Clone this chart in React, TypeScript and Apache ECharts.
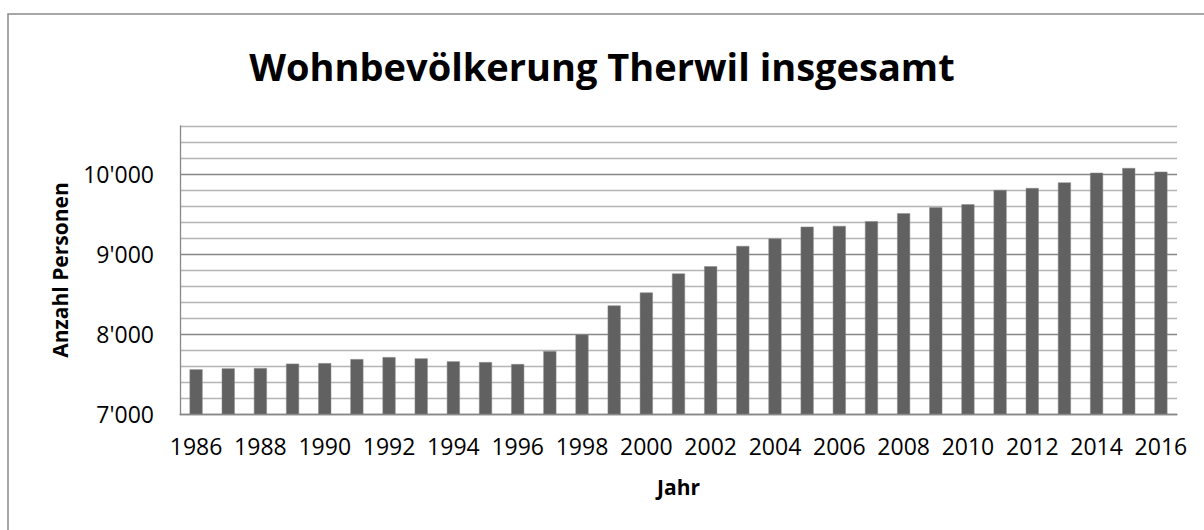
import React, { useEffect, useRef } from "react";
import * as echarts from "echarts";

const TITLE = "Wohnbevölkerung Therwil insgesamt";
const X_NAME = "Jahr";
const Y_NAME = "Anzahl Personen";

const years = [
  "1986", "1987", "1988", "1989", "1990", "1991", "1992", "1993", "1994", "1995",
  "1996", "1997", "1998", "1999", "2000", "2001", "2002", "2003", "2004", "2005",
  "2006", "2007", "2008", "2009", "2010", "2011", "2012", "2013", "2014", "2015", "2016",
];

const population = [
  7558, 7570, 7574, 7629, 7636, 7686, 7711, 7695, 7658, 7649,
  7624, 7786, 7995, 8357, 8519, 8756, 8847, 9101, 9193, 9342,
  9351, 9409, 9508, 9583, 9621, 9800, 9825, 9895, 10016, 10075, 10029,
];

const Y_MIN = 7000;
const Y_MAX = 10600;
const Y_STEP = 200;
const Y_LABEL_STEP = 1000;

const FONT = "'Open Sans', 'Noto Sans', sans-serif";

function fmt(v: number): string {
  const s = String(Math.round(v));
  return s.replace(/\B(?=(\d{3})+(?!\d))/g, "'");
}

export default function App() {
  const ref = useRef<HTMLDivElement | null>(null);

  useEffect(() => {
    document.body.style.margin = "0";
    if (!ref.current) return;
    const chart = echarts.init(ref.current, undefined, { renderer: "svg" });
    chart.setOption({
      animation: false,
      backgroundColor: "#ffffff",
      title: {
        text: TITLE,
        left: "center",
        top: 42,
        textStyle: {
          fontFamily: FONT,
          fontSize: 38,
          fontWeight: "bold",
          color: "#000000",
        },
      },
      graphic: [
        {
          type: "rect",
          shape: { x: 8, y: 14, width: 1300, height: 700 },
          style: { fill: "none", stroke: "#8a8a8a", lineWidth: 1.5 },
          silent: true,
        },
      ],
      grid: { left: 180, right: 27, top: 126, bottom: 116, containLabel: false },
      xAxis: {
        type: "category",
        data: years,
        name: X_NAME,
        nameLocation: "middle",
        nameGap: 62,
        nameTextStyle: {
          fontFamily: FONT,
          fontSize: 21,
          fontWeight: "bold",
          color: "#000000",
        },
        axisLine: { show: true, lineStyle: { color: "#888888", width: 1.3 } },
        axisTick: { show: false },
        axisLabel: {
          interval: 1,
          margin: 20,
          fontFamily: FONT,
          fontSize: 23,
          color: "#000000",
        },
        splitLine: { show: false },
      },
      yAxis: {
        type: "value",
        min: Y_MIN,
        max: Y_MAX,
        interval: Y_STEP,
        name: Y_NAME,
        nameLocation: "middle",
        nameGap: 110,
        nameTextStyle: {
          fontFamily: FONT,
          fontSize: 21,
          fontWeight: "bold",
          color: "#000000",
        },
        axisLine: { show: true, lineStyle: { color: "#888888", width: 1.3 } },
        axisTick: { show: false },
        axisLabel: {
          margin: 26,
          fontFamily: FONT,
          fontSize: 23,
          color: "#000000",
          formatter: (v: number) => (v % Y_LABEL_STEP === 0 ? fmt(v) : ""),
        },
        splitLine: {
          show: true,
          lineStyle: {
            color: ["#878787", "#b5b5b5", "#b5b5b5", "#b5b5b5", "#b5b5b5"],
            width: 1.3,
          },
        },
      },
      series: [
        {
          type: "bar",
          data: population,
          barWidth: 13,
          itemStyle: { color: "#616161", borderColor: "#8a8a8a", borderWidth: 0.5 },
        },
      ],
    });
    return () => chart.dispose();
  }, []);

  return <div ref={ref} style={{ width: 1204, height: 530 }} />;
}
